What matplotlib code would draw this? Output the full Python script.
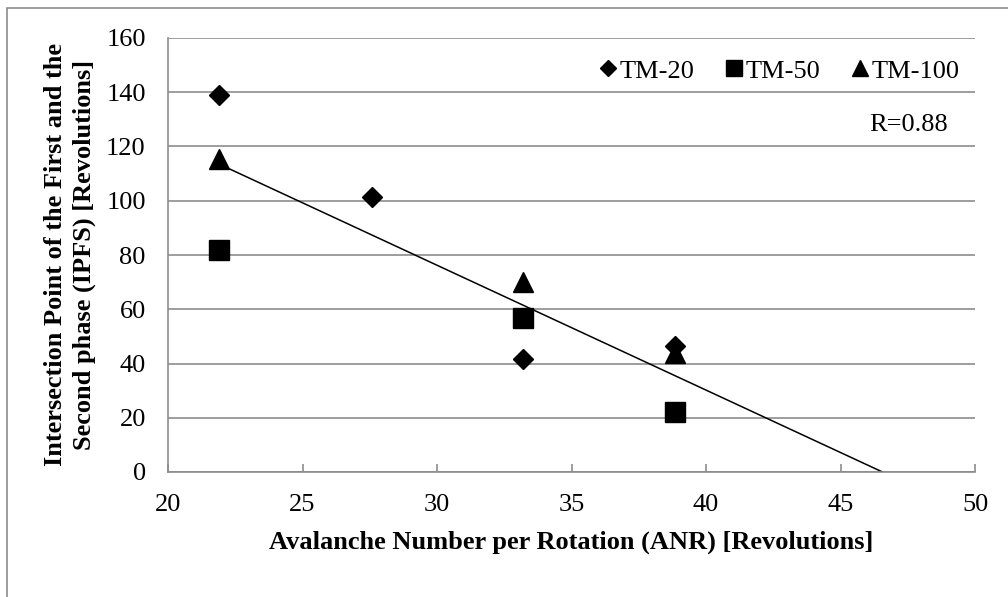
import numpy as np
import matplotlib.pyplot as plt
from matplotlib.patches import Rectangle

# ANR vs IPFS for the three test materials
tm20_x = [21.9, 27.6, 33.2, 38.85]
tm20_y = [139, 101.5, 41.5, 46.5]
tm50_x = [21.9, 33.2, 38.85]
tm50_y = [82, 56.8, 22]
tm100_x = [21.9, 33.2, 38.85]
tm100_y = [115.5, 70, 44]

series_labels = ['TM-20', 'TM-50', 'TM-100']
x_ticks = [20, 25, 30, 35, 40, 45, 50]
y_ticks = [0, 20, 40, 60, 80, 100, 120, 140, 160]


def main():
    plt.rcParams['font.family'] = ['Liberation Serif', 'DejaVu Serif']
    fig = plt.figure(figsize=(10.08, 5.97), dpi=100)
    ax = fig.add_axes([168 / 1008, 1 - 472 / 597, (975 - 168) / 1008, (472 - 38) / 597])

    # outer frame of the chart area
    fig.patches.append(Rectangle((7 / 1008, -0.1), 1.2, 1.1 - 8 / 597,
                                 transform=fig.transFigure, fill=False,
                                 edgecolor='#8c8c8c', linewidth=1.2))

    ax.plot(tm20_x, tm20_y, 'D', color='black', markersize=10, label=series_labels[0], zorder=3)
    ax.plot(tm50_x, tm50_y, 's', color='black', markersize=14, label=series_labels[1], zorder=3)
    ax.plot(tm100_x, tm100_y, '^', color='black', markersize=14, label=series_labels[2], zorder=3)

    # linear trend over all points, extended to where it crosses zero
    all_x = np.array(tm20_x + tm50_x + tm100_x)
    all_y = np.array(tm20_y + tm50_y + tm100_y)
    slope, intercept = np.polyfit(all_x, all_y, 1)
    x_end = -intercept / slope
    ax.plot([all_x.min(), x_end], [slope * all_x.min() + intercept, 0],
            color='black', linewidth=1.1, zorder=2)
    r = abs(np.corrcoef(all_x, all_y)[0, 1])

    ax.set_xlim(20, 50)
    ax.set_ylim(0, 160)
    ax.set_xticks(x_ticks)
    ax.set_yticks(y_ticks)
    ax.yaxis.grid(True, color='#8c8c8c', linewidth=1.2)
    ax.set_axisbelow(True)
    for side in ['top', 'right']:
        ax.spines[side].set_visible(False)
    for side in ['left', 'bottom']:
        ax.spines[side].set_color('#8c8c8c')
        ax.spines[side].set_linewidth(1.2)
    ax.tick_params(axis='x', direction='in', length=6, width=1.2, color='#8c8c8c',
                   labelsize=19, pad=16)
    ax.tick_params(axis='y', length=0, labelsize=19, pad=16)

    ax.set_xlabel('Avalanche Number per Rotation (ANR) [Revolutions]',
                  fontsize=19, fontweight='bold', labelpad=10)
    ax.set_ylabel('Intersection Point of the First and the\nSecond phase (IPFS) [Revolutions]',
                  fontsize=19, fontweight='bold', labelpad=7.5, linespacing=1.3)

    fig.legend(loc='center right', bbox_to_anchor=(960 / 1008, 1 - 71 / 597),
               ncol=3, frameon=False, fontsize=19, markerscale=0.8,
               handlelength=0.6, handletextpad=0.15, columnspacing=1.2,
               borderpad=0, borderaxespad=0)
    fig.text(948 / 1008, 1 - 125 / 597, f'R={r:.2f}', fontsize=19,
             ha='right', va='center')

    fig.savefig('out.png', dpi=100)


if __name__ == '__main__':
    main()
